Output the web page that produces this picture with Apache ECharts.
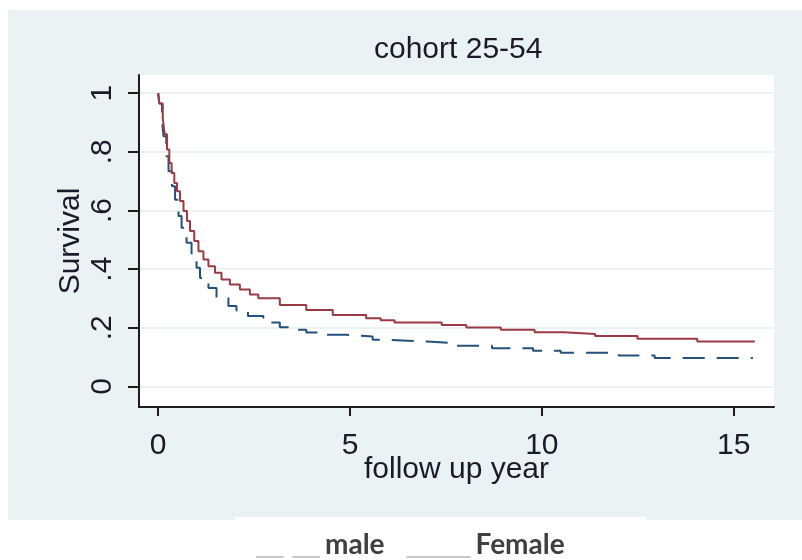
<!DOCTYPE html>
<html>
<head>
<meta charset="utf-8">
<title>cohort 25-54</title>
<script src="https://cdn.jsdelivr.net/npm/echarts@6/dist/echarts.min.js"></script>
<style>
  html, body { margin: 0; padding: 0; background: #ffffff; }
  #chart { width: 802px; height: 560px; }
</style>
</head>
<body>
<div id="chart"></div>
<script>
// Kaplan-Meier survival estimates by sex, follow-up in years
const maleTime = [0, 0.03, 0.10, 0.14, 0.21, 0.27, 0.36, 0.44, 0.53, 0.61, 0.74, 0.87, 1.00, 1.09, 1.31, 1.52, 1.83, 2.04, 2.34, 2.74, 3.17, 3.52, 3.86, 4.21, 4.90, 5.59, 5.94, 7.01, 7.65, 8.70, 9.77, 10.49, 12.00, 12.94, 15.50];
const maleSurv = [1.000, 0.965, 0.905, 0.853, 0.785, 0.734, 0.683, 0.637, 0.581, 0.541, 0.490, 0.450, 0.405, 0.370, 0.336, 0.302, 0.274, 0.259, 0.240, 0.218, 0.202, 0.193, 0.184, 0.176, 0.170, 0.159, 0.153, 0.148, 0.139, 0.130, 0.122, 0.115, 0.106, 0.097, 0.097];

const femaleTime = [0, 0.03, 0.12, 0.17, 0.23, 0.29, 0.35, 0.42, 0.49, 0.57, 0.66, 0.75, 0.83, 0.94, 1.05, 1.18, 1.31, 1.48, 1.65, 1.87, 2.13, 2.39, 2.61, 3.17, 3.86, 4.55, 5.42, 5.80, 6.16, 7.39, 8.03, 8.93, 9.81, 10.57, 11.39, 12.49, 14.05, 15.55];
const femaleSurv = [1.000, 0.965, 0.912, 0.860, 0.808, 0.762, 0.728, 0.694, 0.666, 0.632, 0.598, 0.564, 0.530, 0.496, 0.461, 0.433, 0.410, 0.388, 0.365, 0.348, 0.331, 0.314, 0.301, 0.278, 0.261, 0.244, 0.233, 0.226, 0.218, 0.210, 0.201, 0.193, 0.185, 0.179, 0.172, 0.163, 0.153, 0.153];

const xTicks = [0, 5, 10, 15];
const yTicks = [0, 0.2, 0.4, 0.6, 0.8, 1];
const yTickLabels = ['0', '.2', '.4', '.6', '.8', '1'];
const seriesNames = ['male', 'Female'];

const pairs = (xs, ys) => xs.map((x, i) => [x, ys[i]]);

const axisColor = '#1c1c1c';
const textColor = '#1a1a2a';
const textFont = 'Liberation Sans, Arial, sans-serif';
const panelBg = '#eaf2f3';

// Legend keys: the empty first sub-path stretches the icon box upward so the
// rule sits on the text baseline instead of at mid-height.
const dashedKey = 'path://M0,0L0.01,0Z M0,24H28V26H0Z M37,24H65V26H37Z';
const solidKey = 'path://M0,0L0.01,0Z M0,24H65V26H0Z';

const chart = echarts.init(document.getElementById('chart'), null, { renderer: 'canvas' });

chart.setOption({
  animation: false,
  backgroundColor: '#ffffff',
  graphic: [
    { type: 'rect', z: -10, silent: true, shape: { x: 8, y: 10, width: 794, height: 510 }, style: { fill: panelBg } },
    { type: 'rect', z: -9, silent: true, shape: { x: 235, y: 517, width: 411, height: 3 }, style: { fill: '#ffffff' } }
  ],
  title: {
    text: 'cohort 25-54',
    left: 369,
    top: 30,
    textStyle: { fontFamily: textFont, fontSize: 30, fontWeight: 'normal', color: textColor }
  },
  legend: {
    left: 251,
    top: 526,
    selectedMode: false,
    itemWidth: 64,
    itemHeight: 26,
    itemGap: 22,
    symbolKeepAspect: false,
    textStyle: {
      fontFamily: 'Lato, Open Sans, sans-serif',
      fontWeight: 'bold',
      fontSize: 28,
      color: '#404040'
    },
    data: [
      { name: seriesNames[0], icon: dashedKey, itemStyle: { color: '#c6c6c6' } },
      { name: seriesNames[1], icon: solidKey, itemStyle: { color: '#c6c6c6' } }
    ]
  },
  grid: {
    left: 139,
    top: 75,
    width: 635,
    height: 332,
    show: true,
    backgroundColor: '#ffffff',
    borderWidth: 0
  },
  xAxis: {
    type: 'value',
    min: -0.5,
    max: 16.05,
    name: 'follow up year',
    nameLocation: 'middle',
    nameGap: 48,
    nameMoveOverlap: false,
    nameTextStyle: { fontFamily: textFont, fontSize: 30, color: textColor },
    axisLine: { show: true, onZero: false, lineStyle: { color: axisColor, width: 2 } },
    axisTick: { show: true, length: 9, customValues: xTicks, lineStyle: { color: axisColor, width: 2 } },
    axisLabel: { customValues: xTicks, margin: 24, fontFamily: textFont, fontSize: 30, color: textColor },
    splitLine: { show: false }
  },
  yAxis: {
    type: 'value',
    min: -0.07,
    max: 1.062,
    name: 'Survival',
    nameLocation: 'middle',
    nameGap: 53,
    nameMoveOverlap: false,
    nameTextStyle: { fontFamily: textFont, fontSize: 30, color: textColor },
    axisLine: { show: true, onZero: false, lineStyle: { color: axisColor, width: 2 } },
    axisTick: { show: true, length: 11, customValues: yTicks, lineStyle: { color: axisColor, width: 2 } },
    axisLabel: {
      customValues: yTicks,
      rotate: 90,
      margin: 21,
      fontFamily: textFont,
      fontSize: 30,
      color: textColor,
      formatter: (v) => {
        const i = yTicks.findIndex((t) => Math.abs(t - v) < 1e-9);
        return i >= 0 ? yTickLabels[i] : '';
      }
    },
    splitLine: { show: true, lineStyle: { color: panelBg, width: 2 } }
  },
  series: [
    {
      name: seriesNames[0],
      type: 'line',
      step: 'end',
      symbol: 'none',
      data: pairs(maleTime, maleSurv),
      lineStyle: { color: '#24507c', width: 2, type: [22, 12] },
      itemStyle: { color: '#24507c' },
      z: 2
    },
    {
      name: seriesNames[1],
      type: 'line',
      step: 'end',
      symbol: 'none',
      data: pairs(femaleTime, femaleSurv),
      lineStyle: { color: '#9a3a42', width: 2, type: 'solid' },
      itemStyle: { color: '#9a3a42' },
      z: 3
    }
  ]
});
</script>
</body>
</html>
